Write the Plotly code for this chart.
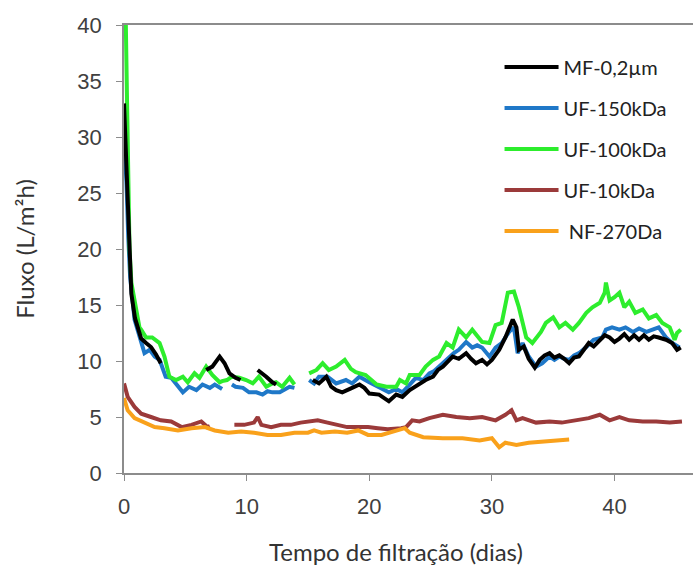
import plotly.graph_objects as go

# ---------------- data ----------------
series_names = ["MF-0,2µm", "UF-150kDa", "UF-100kDa", "UF-10kDa", "NF-270Da"]
x_tick_vals = [0, 10, 20, 30, 40]
y_tick_vals = [0, 5, 10, 15, 20, 25, 30, 35, 40]

mf_days = [0, 0.2, 0.4, 0.6, 0.9, 1.4, 1.8, 2.2, 2.6, 3.0, None,
           6.7, 7.2, 7.8, 8.2, 8.6, 9.1, 9.5, None,
           10.9, 11.3, 11.6, 12.1, 12.4, None,
           15.4, 15.9, 16.5, 16.9, 17.3, 17.8, 18.6, 19.2, 19.6, 20.0, 20.8, 21.6, 22.2, 22.7,
           23.3, 24.1, 24.6, 25.2, 25.6, 26.0, 26.4, 26.8, 27.3, 27.9, 28.3, 28.7, 29.2,
           29.6, 30.0, 30.6, 31.1, 31.4, 31.7, 32.0, 32.2, 32.6, 33.0, 33.5, 33.9, 34.3,
           34.7, 35.1, 35.5, 35.9, 36.3, 36.7, 37.1, 37.5, 37.9, 38.3, 38.8, 39.2, 39.6,
           40.0, 40.4, 40.8, 41.2, 41.6, 42.0, 42.4, 42.8, 43.2, 43.6, 44.2, 44.7, 45.1, 45.4]
mf_flux = [33, 27, 20, 16, 13.8, 12.0, 11.6, 11.25, 10.6, 9.8, None,
           9.2, 9.5, 10.4, 9.8, 8.9, 8.5, 8.3, None,
           9.2, 8.9, 8.6, 8.1, 7.9, None,
           8.3, 8.0, 8.6, 7.7, 7.4, 7.2, 7.6, 7.9, 7.6, 7.1, 7.0, 6.4, 7.0, 6.8,
           7.4, 8.0, 8.3, 8.6, 9.2, 9.5, 9.9, 10.4, 10.2, 10.7, 10.2, 9.8, 10.1,
           9.7, 10.1, 11.0, 12.1, 13.0, 13.7, 13.0, 11.0, 11.3, 10.2, 9.4, 10.1, 10.5,
           10.7, 10.3, 10.5, 10.2, 9.8, 10.3, 10.4, 11.0, 11.6, 11.3, 11.9, 12.3, 12.1,
           11.7, 12.0, 12.4, 11.9, 12.3, 11.9, 12.3, 11.9, 12.2, 12.1, 11.9, 11.6, 11.0, 11.2]

uf150_days = [0, 0.2, 0.35, 0.5, 0.86, 1.26, 1.67, 2.1, 2.5, 2.9, 3.4, 3.85, 4.25, 4.8,
              5.3, 5.9, 6.4, 7.0, 7.4, 7.8, 8.0, None,
              8.8, 9.1, 9.7, 10.2, 10.8, 11.3, 11.7, 12.1, 12.7, 13.1, 13.5, 13.9, None,
              15.1, 15.5, 15.9, 16.6, 17.3, 18.1, 18.6, 19.2, 20.0, 20.8, 21.6, 22.2, 22.7,
              23.3, 23.8, 24.4, 24.9, 25.3, 25.7, 26.1, 26.5, 26.9, 27.3, 27.9, 28.4, 28.8,
              29.2, 29.8, 30.3, 30.8, 31.4, 31.8, 32.1, 32.5, 33.0, 33.6, 34.1, 34.7, 35.1,
              35.5, 35.9, 36.3, 36.7, 37.1, 37.7, 38.3, 39.0, 39.3, 39.8, 40.4, 40.9, 41.5,
              42.0, 42.6, 43.1, 43.6, 44.2, 44.7, 45.3]
uf150_flux = [30, 26, 21, 17.5, 13.7, 12.1, 10.7, 11.0, 10.4, 10.1, 8.6, 8.5, 8.0, 7.2,
              7.7, 7.4, 7.9, 7.6, 7.9, 7.6, 7.5, None,
              7.9, 7.7, 7.6, 7.2, 7.2, 7.0, 7.3, 7.2, 7.2, 7.5, 7.7, 7.6, None,
              8.3, 8.0, 8.6, 8.6, 8.0, 8.3, 8.0, 8.6, 8.1, 7.6, 7.2, 7.5, 7.2,
              7.9, 8.5, 8.3, 8.9, 9.1, 9.5, 9.9, 10.4, 10.7, 11.0, 11.7, 11.2, 11.4,
              11.2, 10.4, 11.2, 11.6, 12.6, 13.0, 10.7, 11.6, 10.4, 9.5, 9.8, 10.4, 10.1,
              10.4, 10.2, 10.1, 10.5, 10.7, 11.25, 11.9, 12.1, 12.8, 13.0, 12.8, 13.0, 12.6,
              12.9, 12.6, 12.8, 13.0, 12.1, 11.6, 11.2]

uf100_days = [0, 0.15, 0.25, 0.35, 0.45, 0.6, 0.86, 1.1, 1.26, 1.4, 1.8, 2.3, 2.9, 3.3,
              3.7, 4.25, 4.8, 5.2, 5.75, 6.15, 6.7, 7.2, 7.8, 8.0, 8.4, 8.8, 9.4, 9.96,
              10.5, 11.0, 11.6, 12.1, 12.4, 12.9, 13.5, 13.9, None,
              15.1, 15.7, 16.2, 16.7, 17.3, 17.7, 18.0, 18.5, 18.9, 19.7, 20.6, 21.4, 22.2,
              22.5, 23.0, 23.3, 24.1, 24.6, 25.2, 25.7, 26.3, 26.8, 27.3, 27.9, 28.4, 29.2,
              29.8, 30.3, 30.8, 31.3, 31.8, 32.2, 32.8, 33.3, 34.0, 34.4, 35.0, 35.5, 36.0,
              36.6, 37.1, 37.7, 38.2, 38.8, 39.2, 39.3, 39.6, 40.0, 40.4, 40.8, 41.2, 41.7,
              42.3, 42.8, 43.4, 43.9, 44.5, 44.9, 45.1, 45.4]
uf100_flux = [40, 40, 33, 26, 20, 17, 15.2, 14, 13.0, 12.8, 12.1, 12.1, 11.6, 10.4,
              8.6, 8.3, 8.6, 8.1, 8.9, 8.5, 9.5, 8.75, 8.1, 8.2, 8.3, 8.6, 8.5, 8.3,
              8.0, 8.6, 7.7, 8.0, 8.1, 7.7, 8.5, 7.9, None,
              8.9, 9.2, 9.8, 9.2, 9.5, 9.9, 10.1, 9.3, 9.0, 8.75, 7.9, 7.7, 7.7,
              8.3, 8.0, 8.75, 8.75, 9.5, 10.1, 10.4, 11.6, 11.2, 12.8, 12.1, 12.8, 11.7,
              11.6, 13.2, 13.4, 16.1, 16.2, 14.8, 12.1, 11.6, 12.6, 13.4, 13.9, 13.0, 13.4,
              12.8, 13.4, 14.3, 14.8, 15.2, 16.1, 17.0, 15.4, 15.7, 16.1, 14.8, 15.3, 14.3,
              14.6, 13.8, 14.1, 13.4, 13.0, 11.9, 12.5, 12.8]

uf10_days = [0, 0.3, 0.86, 1.4, 2.2, 3.0, 3.85, 4.7, 5.5, 6.3, 6.8, 7.0, None,
             9.0, 9.8, 10.6, 10.9, 11.2, 12.0, 12.8, 13.6, 14.4, 15.3, 15.8, 16.6, 17.4,
             18.2, 19.1, 19.9, 20.7, 21.5, 22.6, 23.0, 23.5, 24.1, 24.9, 26.0, 27.1, 28.2,
             29.2, 30.3, 31.1, 31.6, 32.0, 32.5, 33.6, 34.7, 35.7, 36.9, 37.9, 38.8, 39.6,
             40.4, 41.2, 42.3, 43.4, 44.5, 45.5]
uf10_flux = [8.0, 6.8, 5.9, 5.3, 5.0, 4.7, 4.6, 4.1, 4.3, 4.6, 4.1, 4.2, None,
             4.3, 4.3, 4.5, 5.0, 4.3, 4.1, 4.3, 4.3, 4.5, 4.6, 4.7, 4.5, 4.3,
             4.1, 4.1, 4.1, 4.0, 3.9, 4.0, 4.1, 4.7, 4.6, 4.9, 5.2, 5.0, 4.9,
             5.0, 4.7, 5.2, 5.6, 4.7, 4.9, 4.5, 4.6, 4.5, 4.7, 4.9, 5.2, 4.7,
             5.0, 4.7, 4.6, 4.6, 4.5, 4.6]

nf270_days = [0, 0.3, 0.86, 1.7, 2.5, 3.3, 4.4, 5.5, 6.6, 7.4, 8.5, 9.55, 10.6, 11.7,
              12.8, 13.9, 15.0, 15.5, 16.1, 17.2, 18.2, 19.1, 19.9, 21.0, 22.0, 22.9,
              23.3, 24.4, 26.0, 27.6, 29.0, 30.0, 30.3, 30.6, 31.1, 32.0, 33.0, 34.4,
              35.7, 36.3]
nf270_flux = [6.7, 5.6, 4.9, 4.5, 4.1, 4.0, 3.8, 4.0, 4.1, 3.8, 3.6, 3.7, 3.6, 3.4,
              3.4, 3.6, 3.6, 3.8, 3.6, 3.7, 3.6, 3.8, 3.4, 3.4, 3.7, 4.0,
              3.6, 3.2, 3.1, 3.1, 2.9, 3.1, 2.7, 2.3, 2.7, 2.5, 2.7, 2.8,
              2.9, 3.0]

# ---------------- styling ----------------
colors = {
    "MF-0,2µm": "#000000",
    "UF-150kDa": "#1f78c8",
    "UF-100kDa": "#2ded2d",
    "UF-10kDa": "#9b3a3a",
    "NF-270Da": "#f9a11b",
}

traces_data = [
    ("UF-10kDa", uf10_days, uf10_flux, 4),
    ("NF-270Da", nf270_days, nf270_flux, 5),
    ("UF-150kDa", uf150_days, uf150_flux, 2),
    ("UF-100kDa", uf100_days, uf100_flux, 3),
    ("MF-0,2µm", mf_days, mf_flux, 1),
]

fig = go.Figure()
for name, xs, ys, rank in traces_data:
    fig.add_trace(go.Scatter(
        x=xs, y=ys, mode="lines", name=(" " + name if name == "NF-270Da" else name),
        line=dict(color=colors[name], width=4),
        legendrank=rank, legendgroup=name,
        connectgaps=False,
    ))

tick_font = dict(family="Liberation Sans, Arial, sans-serif", size=22, color="#404040")
title_font = dict(family="Lato, sans-serif", size=24, color="#333333")

fig.update_layout(
    width=693, height=567,
    margin=dict(l=124, r=0, t=25, b=94),
    plot_bgcolor="white", paper_bgcolor="white",
    showlegend=True,
    legend=dict(
        x=0.66, y=0.95, xanchor="left", yanchor="top",
        font=dict(family="Lato, sans-serif", size=20, color="#222222"),
        tracegroupgap=12, itemwidth=54,
        bgcolor="rgba(0,0,0,0)",
    ),
    annotations=[dict(
        text="Tempo de filtração (dias)", xref="paper", yref="paper",
        x=0.478, y=0, yshift=-78, xanchor="center", yanchor="middle",
        showarrow=False, font=title_font,
    )],
)
fig.update_xaxes(
    range=[0, 46.4], tickvals=x_tick_vals, ticktext=[str(v) for v in x_tick_vals],
    showgrid=False, zeroline=False,
    showline=True, linecolor="#8c8c8c", linewidth=1.5, mirror=True,
    ticks="outside", ticklen=6, tickcolor="#8c8c8c",
    tickfont=tick_font, ticklabelstandoff=7,
)
fig.update_yaxes(
    range=[0, 40], tickvals=y_tick_vals, ticktext=[str(v) for v in y_tick_vals],
    showgrid=False, zeroline=False,
    showline=True, linecolor="#8c8c8c", linewidth=1.5,
    ticks="outside", ticklen=6, tickcolor="#8c8c8c",
    tickfont=tick_font, ticklabelstandoff=10,
    title=dict(text="Fluxo (L/m²h)", font=title_font, standoff=36),
)

fig.write_html("out.html")
